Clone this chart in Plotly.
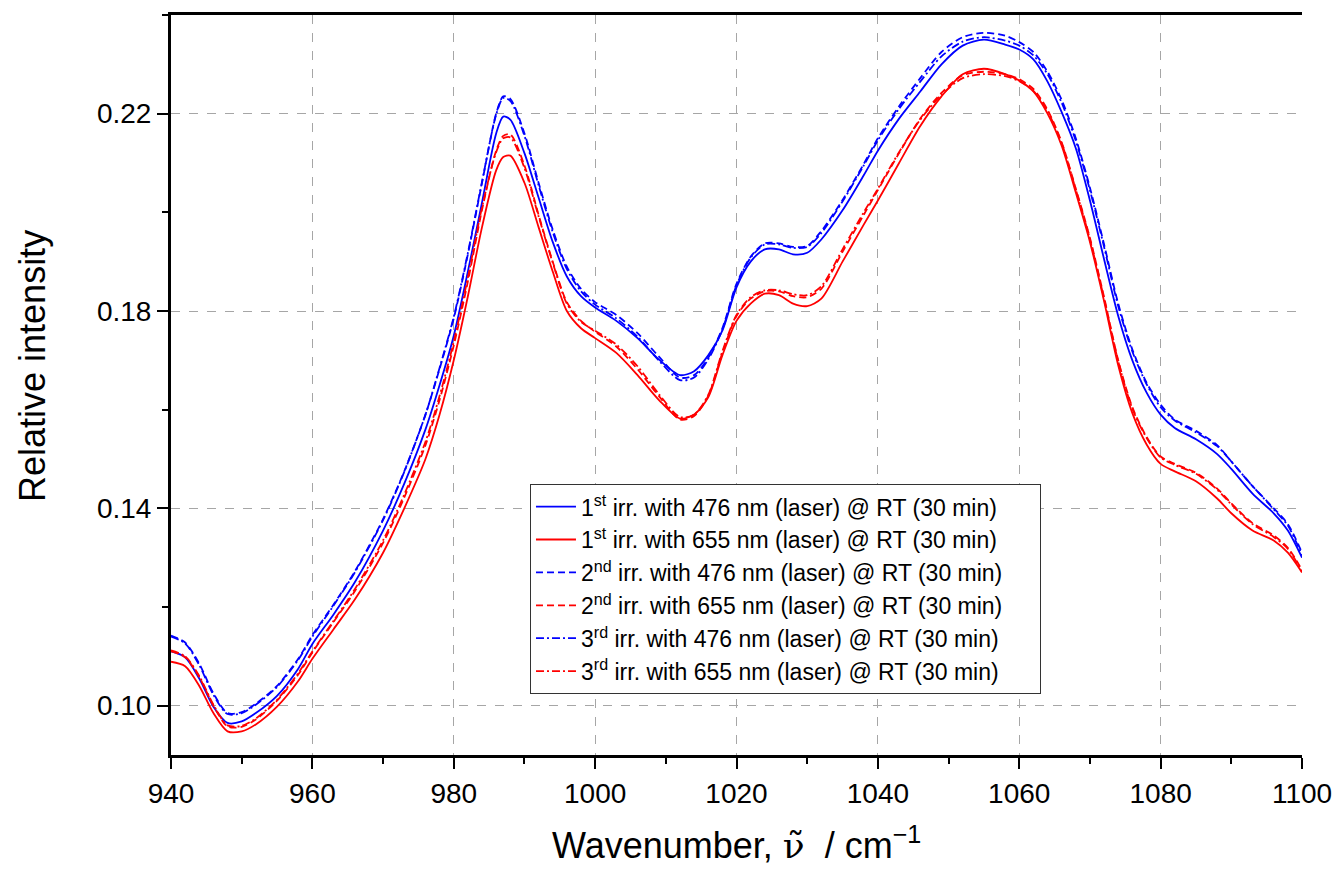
import plotly.graph_objects as go

wavenumber = [940, 942, 944, 946, 948, 950, 952, 955, 958, 960, 963, 966, 970, 973, 976, 978, 980, 982, 984, 986, 987, 988, 990, 992, 994, 996, 998, 1000, 1003, 1006, 1009, 1012, 1014, 1016, 1018, 1020, 1022, 1024, 1026, 1028, 1030, 1032, 1035, 1038, 1040, 1043, 1046, 1049, 1052, 1055, 1058, 1060, 1062, 1064, 1066, 1068, 1070, 1072, 1074, 1076, 1078, 1080, 1082, 1085, 1088, 1090, 1093, 1096, 1098, 1100]

blue_1st = [0.1110, 0.1098, 0.1055, 0.0998, 0.0965, 0.0968, 0.0985, 0.1020, 0.1075, 0.1125, 0.1185, 0.1250, 0.1355, 0.1450, 0.1560, 0.1650, 0.1750, 0.1880, 0.2020, 0.2160, 0.2194, 0.2188, 0.2120, 0.2030, 0.1940, 0.1870, 0.1830, 0.1807, 0.1780, 0.1745, 0.1702, 0.1670, 0.1678, 0.1710, 0.1760, 0.1848, 0.1900, 0.1925, 0.1925, 0.1915, 0.1918, 0.1945, 0.2004, 0.2075, 0.2125, 0.2190, 0.2245, 0.2300, 0.2338, 0.2350, 0.2340, 0.2330, 0.2310, 0.2265, 0.2203, 0.2130, 0.2024, 0.1905, 0.1790, 0.1700, 0.1635, 0.1590, 0.1563, 0.1540, 0.1510, 0.1480, 0.1430, 0.1390, 0.1355, 0.1300]

red_1st = [0.1089, 0.1080, 0.1040, 0.0985, 0.0948, 0.0948, 0.0962, 0.0998, 0.1050, 0.1095, 0.1155, 0.1215, 0.1310, 0.1400, 0.1500, 0.1590, 0.1700, 0.1830, 0.1970, 0.2085, 0.2112, 0.2115, 0.2060, 0.1970, 0.1880, 0.1800, 0.1765, 0.1745, 0.1715, 0.1670, 0.1620, 0.1582, 0.1590, 0.1625, 0.1710, 0.1780, 0.1815, 0.1835, 0.1832, 0.1815, 0.1810, 0.1825, 0.1900, 0.1975, 0.2024, 0.2100, 0.2175, 0.2235, 0.2280, 0.2291, 0.2280, 0.2267, 0.2245, 0.2200, 0.2135, 0.2040, 0.1940, 0.1820, 0.1690, 0.1593, 0.1530, 0.1490, 0.1475, 0.1455, 0.1420, 0.1390, 0.1355, 0.1335, 0.1310, 0.1270]

blue_2nd = [0.1142, 0.1128, 0.1085, 0.1025, 0.0985, 0.0987, 0.1004, 0.1040, 0.1095, 0.1143, 0.1205, 0.1272, 0.1378, 0.1475, 0.1590, 0.1683, 0.1785, 0.1915, 0.2060, 0.2200, 0.2235, 0.2230, 0.2160, 0.2060, 0.1965, 0.1890, 0.1845, 0.1818, 0.1792, 0.1755, 0.1708, 0.1665, 0.1670, 0.1705, 0.1765, 0.1855, 0.1910, 0.1937, 0.1937, 0.1930, 0.1932, 0.1962, 0.2025, 0.2098, 0.2150, 0.2215, 0.2272, 0.2325, 0.2355, 0.2364, 0.2358, 0.2345, 0.2325, 0.2285, 0.2228, 0.2150, 0.2050, 0.1935, 0.1815, 0.1722, 0.1655, 0.1610, 0.1580, 0.1557, 0.1528, 0.1495, 0.1445, 0.1400, 0.1368, 0.1310]

red_2nd = [0.1110, 0.1098, 0.1058, 0.1000, 0.0958, 0.0957, 0.0972, 0.1010, 0.1063, 0.1108, 0.1170, 0.1232, 0.1330, 0.1422, 0.1528, 0.1620, 0.1730, 0.1860, 0.2005, 0.2125, 0.2155, 0.2158, 0.2095, 0.1995, 0.1900, 0.1818, 0.1780, 0.1758, 0.1728, 0.1682, 0.1628, 0.1580, 0.1587, 0.1628, 0.1715, 0.1790, 0.1825, 0.1840, 0.1840, 0.1830, 0.1828, 0.1845, 0.1920, 0.1995, 0.2045, 0.2120, 0.2190, 0.2242, 0.2278, 0.2285, 0.2280, 0.2270, 0.2250, 0.2208, 0.2142, 0.2048, 0.1948, 0.1828, 0.1700, 0.1605, 0.1545, 0.1505, 0.1490, 0.1472, 0.1440, 0.1410, 0.1370, 0.1345, 0.1320, 0.1275]

blue_3rd = [0.1140, 0.1126, 0.1082, 0.1022, 0.0983, 0.0985, 0.1002, 0.1038, 0.1093, 0.1140, 0.1203, 0.1270, 0.1376, 0.1474, 0.1590, 0.1685, 0.1788, 0.1918, 0.2062, 0.2198, 0.2232, 0.2226, 0.2155, 0.2055, 0.1960, 0.1885, 0.1840, 0.1813, 0.1785, 0.1748, 0.1700, 0.1660, 0.1665, 0.1702, 0.1762, 0.1852, 0.1908, 0.1935, 0.1935, 0.1928, 0.1930, 0.1958, 0.2022, 0.2095, 0.2146, 0.2210, 0.2265, 0.2316, 0.2346, 0.2355, 0.2348, 0.2338, 0.2318, 0.2280, 0.2222, 0.2145, 0.2045, 0.1930, 0.1810, 0.1718, 0.1652, 0.1605, 0.1578, 0.1554, 0.1526, 0.1495, 0.1445, 0.1398, 0.1365, 0.1305]

red_3rd = [0.1112, 0.1100, 0.1060, 0.1002, 0.0960, 0.0959, 0.0974, 0.1012, 0.1066, 0.1110, 0.1172, 0.1236, 0.1335, 0.1428, 0.1535, 0.1628, 0.1738, 0.1868, 0.2010, 0.2122, 0.2150, 0.2152, 0.2090, 0.1992, 0.1898, 0.1815, 0.1778, 0.1760, 0.1732, 0.1688, 0.1632, 0.1585, 0.1590, 0.1630, 0.1718, 0.1792, 0.1828, 0.1842, 0.1842, 0.1834, 0.1832, 0.1850, 0.1925, 0.2000, 0.2048, 0.2122, 0.2188, 0.2238, 0.2272, 0.2280, 0.2276, 0.2266, 0.2246, 0.2205, 0.2140, 0.2046, 0.1945, 0.1825, 0.1698, 0.1602, 0.1543, 0.1503, 0.1488, 0.1470, 0.1438, 0.1408, 0.1368, 0.1342, 0.1318, 0.1272]

series_names = [
    "1<sup>st</sup> irr. with 476 nm (laser) @ RT (30 min)",
    "1<sup>st</sup> irr. with 655 nm (laser) @ RT (30 min)",
    "2<sup>nd</sup> irr. with 476 nm (laser) @ RT (30 min)",
    "2<sup>nd</sup> irr. with 655 nm (laser) @ RT (30 min)",
    "3<sup>rd</sup> irr. with 476 nm (laser) @ RT (30 min)",
    "3<sup>rd</sup> irr. with 655 nm (laser) @ RT (30 min)",
]
series_values = [blue_1st, red_1st, blue_2nd, red_2nd, blue_3rd, red_3rd]
series_colors = ["#0000ff", "#ff0000", "#0000ff", "#ff0000", "#0000ff", "#ff0000"]
series_dashes = ["solid", "solid", "7px,4px", "7px,4px", "8px,3px,2px,3px", "8px,3px,2px,3px"]

FONT = "Liberation Sans, Arial, sans-serif"
PAD = "&nbsp;" * 5

fig = go.Figure()
for name, vals, col, dash in zip(series_names, series_values, series_colors, series_dashes):
    fig.add_trace(go.Scatter(
        x=wavenumber, y=vals, mode="lines", name=name + PAD,
        line=dict(color=col, width=1.8, dash=dash, shape="spline", smoothing=0.8),
    ))

axis_common = dict(
    showline=True, linecolor="black", linewidth=3,
    ticks="outside", ticklen=11, tickwidth=2, tickcolor="black",
    showgrid=True, gridcolor="#a6a6a6", gridwidth=1, griddash="dash",
    zeroline=False,
    tickfont=dict(family=FONT, size=28, color="black"),
)

fig.update_xaxes(
    range=[940, 1100], tick0=940, dtick=20, mirror=True,
    minor=dict(dtick=10, ticks="outside", ticklen=6, tickwidth=2, tickcolor="black", showgrid=False),
    **axis_common,
)
fig.update_yaxes(
    range=[0.09, 0.24], tick0=0.10, dtick=0.04, tickformat=".2f", mirror=False,
    minor=dict(dtick=0.02, ticks="outside", ticklen=6, tickwidth=2, tickcolor="black", showgrid=False),
    **axis_common,
)

fig.add_annotation(
    x=0.5, y=-0.119, xref="paper", yref="paper", showarrow=False,
    xanchor="center", yanchor="middle",
    text="Wavenumber, <span style=\"font-family:'DejaVu Serif', serif\">\u03bd\u0303</span>  / cm<sup>\u22121</sup>",
    font=dict(family=FONT, size=36, color="black"),
)
fig.add_annotation(
    x=-0.122, y=0.5257, xref="paper", yref="paper", showarrow=False,
    xanchor="center", yanchor="middle",
    text="Relative intensity", textangle=-90,
    font=dict(family=FONT, size=36, color="black"),
)

fig.update_layout(
    width=1343, height=876,
    margin=dict(l=171, r=41, t=15, b=121),
    paper_bgcolor="white", plot_bgcolor="white",
    showlegend=True,
    legend=dict(
        x=0.3174, y=0.366, xanchor="left", yanchor="top",
        bgcolor="white", bordercolor="#333333", borderwidth=1,
        font=dict(family=FONT, size=23, color="black"),
        tracegroupgap=0, itemwidth=40,
    ),
)

fig.write_html("out.html")
